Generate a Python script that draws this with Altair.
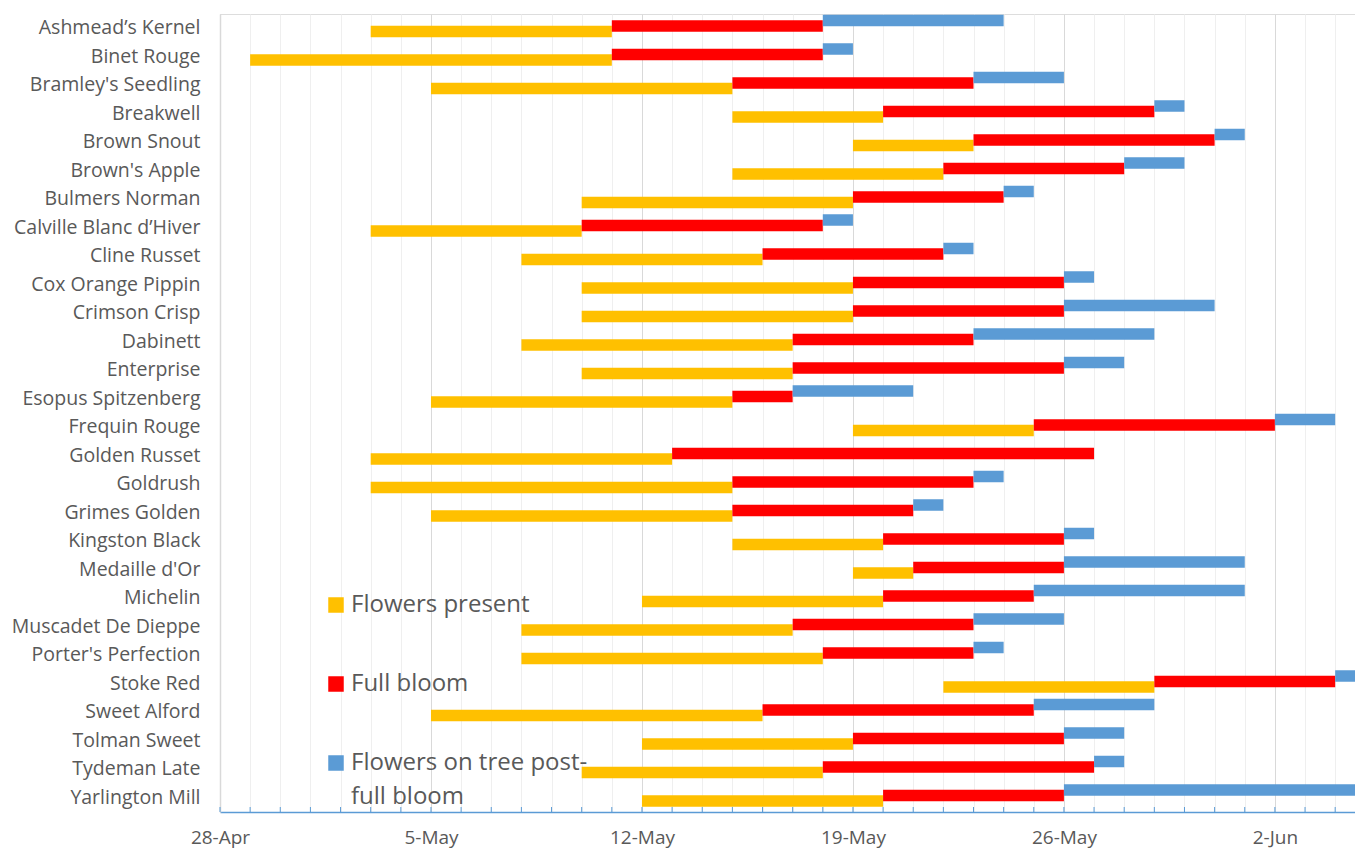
import json
import altair as alt
import pandas as pd

varieties = [
    "Ashmead’s  Kernel", "Binet Rouge", "Bramley's Seedling", "Breakwell",
    "Brown Snout", "Brown's Apple", "Bulmers Norman", "Calville Blanc d’Hiver",
    "Cline Russet", "Cox Orange Pippin", "Crimson Crisp", "Dabinett",
    "Enterprise", "Esopus Spitzenberg", "Frequin Rouge", "Golden Russet",
    "Goldrush", "Grimes Golden", "Kingston Black", "Medaille d'Or",
    "Michelin", "Muscadet De Dieppe", "Porter's Perfection", "Stoke Red",
    "Sweet Alford", "Tolman Sweet", "Tydeman Late", "Yarlington Mill",
]
# days counted from 28-Apr
flowers_start = [5, 1, 7, 17, 21, 17, 12, 5, 10, 12, 12, 10, 12, 7, 21, 5, 5, 7, 17, 21, 14, 10, 10, 24, 7, 14, 12, 14]
bloom_start = [13, 13, 17, 22, 25, 24, 21, 12, 18, 21, 21, 19, 19, 17, 27, 15, 17, 17, 22, 23, 22, 19, 20, 31, 18, 21, 20, 22]
post_start = [20, 20, 25, 31, 33, 30, 26, 20, 24, 28, 28, 25, 28, 19, 35, 29, 25, 23, 28, 28, 27, 25, 25, 37, 27, 28, 29, 28]
post_end = [26, 21, 28, 32, 34, 32, 27, 21, 25, 29, 33, 31, 30, 23, 37, 29, 26, 24, 29, 34, 34, 28, 26, 38, 31, 30, 30, 38]

phases = ["Flowers present", "Full bloom", "Flowers on tree post-full bloom"]
phase_colors = ["#FFC000", "#FF0000", "#5B9BD5"]
tick_days = [0, 7, 14, 21, 28, 35]
tick_labels = ["28-Apr", "5-May", "12-May", "19-May", "26-May", "2-Jun"]

rows = []
for i, v in enumerate(varieties):
    segs = [(flowers_start[i], bloom_start[i]), (bloom_start[i], post_start[i]), (post_start[i], post_end[i])]
    for p, (s, e) in zip(phases, segs):
        if e > s:
            rows.append({"variety": v, "phase": p, "start": s, "end": e})
df = pd.DataFrame(rows)
ticks_df = pd.DataFrame({"day": list(range(0, 38))})

FONT = "Open Sans"
TXT = "#595959"
PX_PER_DAY = 30.14
W = 1135
H = 798
xmax = W / PX_PER_DAY

label_expr = (
    f"indexof({json.dumps(tick_days)}, datum.value) >= 0 ? "
    f"{json.dumps(tick_labels)}[indexof({json.dumps(tick_days)}, datum.value)] : ''"
)

xscale = alt.Scale(domain=[0, xmax], nice=False, zero=False)
x_axis = alt.Axis(
    title=None, values=list(range(0, 38)), labelExpr=label_expr,
    grid=True,
    gridColor={"condition": {"test": "datum.value % 7 === 0", "value": "#D9D9D9"}, "value": "#EFEFEF"},
    gridWidth=1, ticks=False, domainColor="#5B9BD5", domainWidth=1.5,
    labelFont=FONT, labelFontSize=19, labelColor=TXT, labelPadding=16,
    labelOverlap=False, labelFlush=False,
)
y_enc = alt.Y(
    "variety:N", sort=varieties,
    scale=alt.Scale(paddingInner=0, paddingOuter=0),
    axis=alt.Axis(
        title=None, ticks=False, grid=False, domainColor="#D9D9D9", domainWidth=1.5,
        labelFont=FONT, labelFontSize=19.5, labelColor=TXT, labelPadding=20,
        minExtent=212, maxExtent=212, labelLimit=400,
    ),
)

legend_label_expr = (
    "datum.label === 'Flowers on tree post-full bloom' ? "
    "['Flowers on tree post-', 'full bloom'] : datum.label"
)
color_enc = alt.Color(
    "phase:N",
    scale=alt.Scale(domain=phases, range=phase_colors),
    legend=alt.Legend(
        title=None, orient="none", legendX=104, legendY=579, padding=0,
        symbolType="square", symbolSize=240, symbolStrokeWidth=0,
        labelFont=FONT, labelFontSize=24, labelColor=TXT, labelOffset=3,
        labelLimit=500, rowPadding=55, labelExpr=legend_label_expr,
    ),
)

ticks = alt.Chart(ticks_df).mark_rule(color="#5B9BD5", strokeWidth=1).encode(
    x=alt.X("day:Q", scale=xscale, axis=x_axis),
    y=alt.value(H - 5), y2=alt.value(H),
)

offsets = {"Flowers present": 3.25, "Full bloom": -2.25, "Flowers on tree post-full bloom": -7.75}
layers = [ticks]
for p in phases:
    layers.append(
        alt.Chart(df).transform_filter(alt.datum.phase == p)
        .mark_bar(height=11.5, yOffset=offsets[p], clip=True)
        .encode(
            x=alt.X("start:Q", scale=xscale, axis=x_axis),
            x2="end:Q",
            y=y_enc,
            color=color_enc,
        )
    )

chart = alt.layer(*layers).properties(
    width=W, height=H,
    padding={"left": 0, "top": 6, "right": 0, "bottom": 5},
).configure_view(stroke=None).configure(
    background="white",
    style={"guide-label": {"lineHeight": 34}},
)

chart.save("out.html", embed_options={"renderer": "svg", "actions": False})
